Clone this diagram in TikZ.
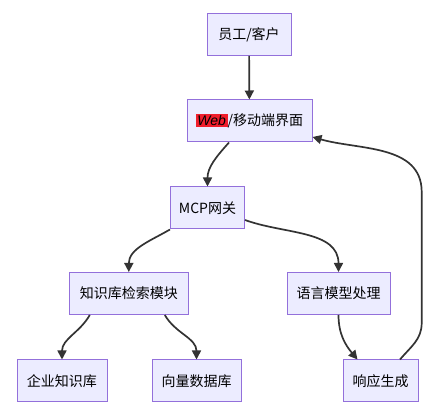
\documentclass[tikz,border=0pt]{standalone}
\usepackage{fontspec}
\setmainfont{Noto Sans CJK SC}
\newfontfamily\webfont{Liberation Sans}
\usepackage{tikz}
\usetikzlibrary{positioning,arrows.meta,calc}
\usepackage{xcolor}
\definecolor{boxfill}{HTML}{ECECFF}
\definecolor{boxline}{HTML}{9370DB}
\definecolor{edgeline}{HTML}{333333}
\definecolor{webred}{HTML}{F01E2C}

\begin{document}
\begin{tikzpicture}[
  x=1pt, y=1pt,
  box/.style={draw=boxline, fill=boxfill, line width=1pt, minimum height=42pt, inner xsep=3pt, align=center, font=\fontsize{14}{16}\selectfont},
  arr/.style={-{Triangle[length=9pt,width=9pt]}, draw=edgeline, line width=1.7pt}
]
\useasboundingbox (0,0) rectangle (434,-419);

\node[box, minimum width=84pt] (staff) at (249,-34.5) {员工/客户};
\node[box, minimum width=125pt] (web) at (249.5,-121) {{\setlength{\fboxsep}{1.5pt}\colorbox{webred}{\webfont\itshape Web}}/移动端界面};
\node[box, minimum width=74pt] (mcp) at (207.5,-208) {MCP网关};

\node[box, minimum width=119pt] (kb) at (128.8,-293.5) {知识库检索模块};
\node[box, minimum width=103pt] (llm) at (338.5,-293.5) {语言模型处理};

\node[box, minimum width=90pt] (ent) at (62,-381) {企业知识库};
\node[box, minimum width=89pt] (vec) at (196.5,-381) {向量数据库};
\node[box, minimum width=75pt] (resp) at (380.5,-381) {响应生成};

% return path on the right
\coordinate (backlow) at (421.7,-323);
\coordinate (backhigh) at (421.7,-192);

\draw[arr] (staff) -- (web);
\draw[arr] ([xshift=-20.5pt]web.south) to[out=-132, in=90] (mcp.north);
\draw[arr] (mcp.south west) to[out=-150, in=90] (kb.north);
\draw[arr] ([yshift=-12pt]mcp.east) to[out=-20, in=90] (llm.north);
\draw[arr] ([xshift=-39pt]kb.south) to[out=-120, in=90] (ent.north);
\draw[arr] ([xshift=36pt]kb.south) to[out=-60, in=90] (vec.north);
\draw[arr] (llm.south) to[out=-90, in=130] ([xshift=-23pt]resp.north);
\draw[arr] ([xshift=19.5pt]resp.north) to[out=50, in=-90] (backlow) -- (backhigh)
  to[out=90, in=-16] ([yshift=-16pt]web.east);
\end{tikzpicture}
\end{document}
